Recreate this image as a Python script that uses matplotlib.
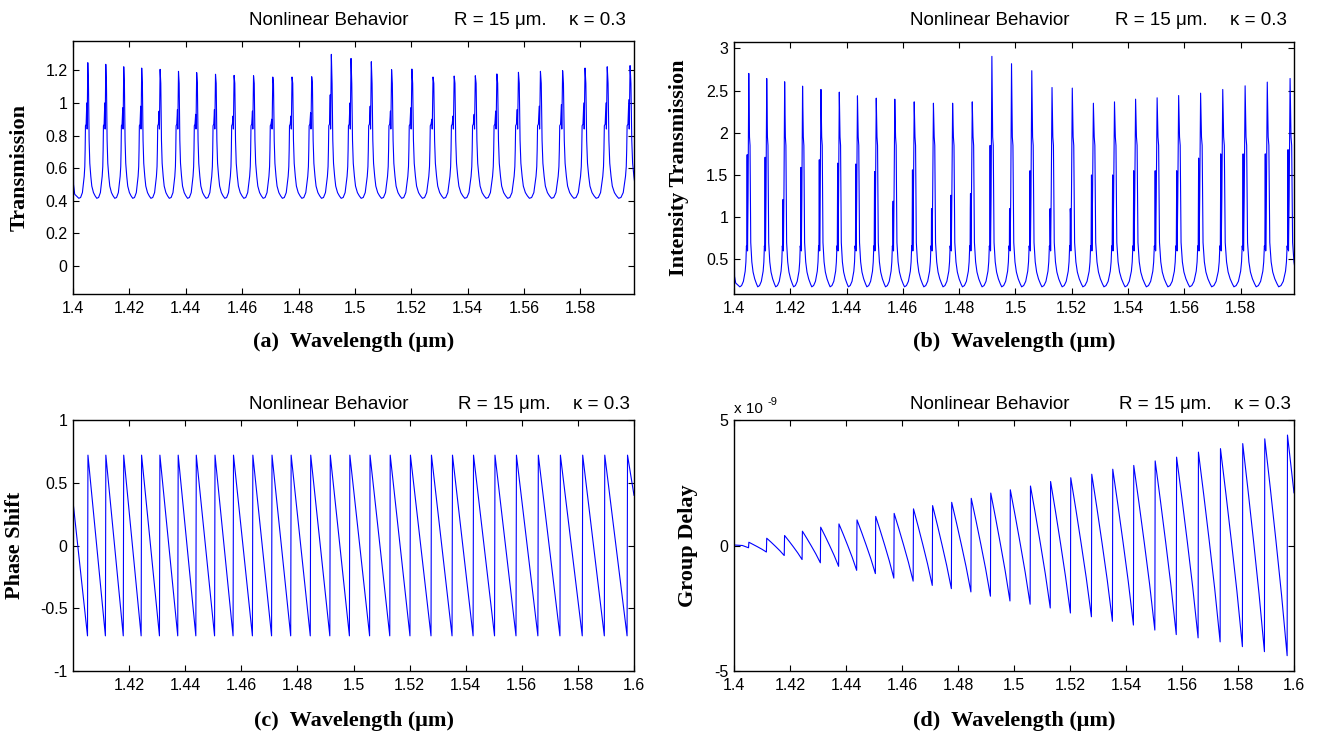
import matplotlib
matplotlib.use('Agg')
import matplotlib.pyplot as plt
from matplotlib.ticker import FuncFormatter

resonance = [1.40525, 1.41163, 1.41800, 1.42437, 1.43090, 1.43742, 1.44387,
             1.45055, 1.45714, 1.46404, 1.47087, 1.47769, 1.48467, 1.49164,
             1.49862, 1.50582, 1.51301, 1.52021, 1.52771, 1.53521, 1.54271,
             1.55036, 1.55801, 1.56581, 1.57368, 1.58163, 1.58950, 1.59761]

# peak heights of panel (a) and (b)
trans_peak = [1.247, 1.237, 1.222, 1.214, 1.206, 1.194, 1.186, 1.176, 1.169,
              1.167, 1.159, 1.159, 1.161, 1.298, 1.273, 1.253, 1.204, 1.208,
              1.159, 1.165, 1.167, 1.178, 1.188, 1.194, 1.198, 1.214, 1.222, 1.229]
trans_side = [1.0, 1.0, 0.97, 0.98, 0.95, 0.96, 0.93, 0.96, 0.92, 0.95, 0.9, 0.92,
              0.94, 1.05, 1.0, 0.98, 0.95, 0.97, 0.9, 0.92, 0.93, 0.95, 0.96, 0.98,
              0.99, 1.0, 1.0, 1.02]
inten_peak = [2.703, 2.643, 2.604, 2.552, 2.513, 2.481, 2.437, 2.410, 2.398,
              2.366, 2.350, 2.350, 2.366, 2.905, 2.818, 2.735, 2.536, 2.529,
              2.350, 2.366, 2.398, 2.414, 2.441, 2.469, 2.513, 2.556, 2.600, 2.643]
inten_side = [1.74, 1.71, 1.21, 1.59, 1.68, 1.64, 1.63, 1.54, 1.19, 1.56, 1.06, 1.26,
              1.28, 1.85, 1.0, 1.55, 1.0, 1.05, 1.5, 1.5, 1.55, 1.55, 1.55, 1.7,
              1.75, 1.75, 1.75, 1.8]

# one period around a peak: offset (in periods) and value
# 'pk' = the peak itself, 'sd' = the side spike next to it
trans_off = [-0.5, -0.4, -0.3, -0.24, -0.2, -0.167, -0.148, -0.13, -0.093,
             -0.056, -0.037, 0.0, 0.037, 0.074, 0.111, 0.167, 0.222, 0.315, 0.407]
trans_val = [0.415, 0.42, 0.45, 0.51, 0.55, 0.61, 0.71, 0.86, 0.87,
             'sd', 0.84, 'pk', 1.12, 0.77, 0.63, 0.55, 0.49, 0.45, 0.43]
trans_start = ([1.4, 1.40003, 1.4002, 1.4006], [-0.25, 1.0, 0.5, 0.44])

inten_off = [-0.5, -0.4, -0.3, -0.2, -0.16, -0.13, -0.11, -0.10, -0.09, -0.07,
             -0.04, 0.0, 0.04, 0.07, 0.11, 0.17, 0.24, 0.33, 0.43]
inten_val = [0.175, 0.19, 0.24, 0.36, 0.47, 0.66, 0.62, 1.1, 'sd', 0.6,
             1.25, 'pk', 1.95, 1.85, 0.70, 0.47, 0.35, 0.27, 0.21]
inten_start = ([1.4, 1.40003, 1.4002, 1.4006], [0.0, 1.2, 0.3, 0.22])

# phase shift sawtooth
phase_top = 0.72
phase_bottom = -0.72
phase_ends = (0.35, 0.4)

# group delay (x 1e-9): value just after / just before each jump
gd_max = [0.13, 0.29, 0.40, 0.57, 0.73, 0.86, 1.02, 1.16, 1.28, 1.46, 1.59, 1.72,
          1.88, 2.09, 2.22, 2.37, 2.55, 2.70, 2.84, 3.04, 3.19, 3.37, 3.52, 3.72,
          3.86, 4.06, 4.25, 4.40]
gd_min = [-0.09, -0.26, -0.40, -0.56, -0.69, -0.83, -0.99, -1.12, -1.30, -1.42,
          -1.59, -1.72, -1.85, -2.02, -2.21, -2.34, -2.49, -2.69, -2.84, -3.02,
          -3.17, -3.37, -3.55, -3.68, -3.84, -4.03, -4.23, -4.39]
gd_shape_off = [0.0, 0.25, 0.5, 0.75]
gd_shape_frac = [1.0, 0.77, 0.53, 0.28]
gd_start = ([1.4, 1.403], [0.02, 0.0])
gd_end = 2.1

BLUE = '#0000ff'
SANS = 'Liberation Sans'
SERIF = 'Liberation Serif'


def ring_curve(peaks, sides, offs, vals, start):
    xs, ys = list(start[0]), list(start[1])
    n = len(resonance)
    for k in range(n):
        left = resonance[k] - resonance[k - 1] if k > 0 else resonance[1] - resonance[0]
        right = resonance[k + 1] - resonance[k] if k < n - 1 else left
        o_k = offs + ([0.5] if k == n - 1 else [])
        v_k = vals + ([vals[0]] if k == n - 1 else [])
        for o, v in zip(o_k, v_k):
            xs.append(resonance[k] + o * (left if o < 0 else right))
            if v == 'pk':
                ys.append(peaks[k])
            elif v == 'sd':
                ys.append(sides[k])
            else:
                ys.append(v)
    return xs, ys


def phase_curve():
    eps = 0.00008
    xs, ys = [1.4], [phase_ends[0]]
    for r in resonance:
        xs += [r - eps, r + eps]
        ys += [phase_bottom, phase_top]
    xs.append(1.6)
    ys.append(phase_ends[1])
    return xs, ys


def delay_curve():
    eps = 0.00006
    xs, ys = list(gd_start[0]), list(gd_start[1])
    n = len(resonance)
    for k, r in enumerate(resonance):
        xs.append(r - eps)
        ys.append(gd_min[k])
        if k < n - 1:
            d = resonance[k + 1] - r - 2 * eps
            for o, f in zip(gd_shape_off, gd_shape_frac):
                xs.append(r + eps + o * d)
                ys.append(gd_min[k + 1] + f * (gd_max[k] - gd_min[k + 1]))
        else:
            xs += [r + eps, 1.6]
            ys += [gd_max[k], gd_end]
    return xs, ys


W, H = 1319, 737
fig = plt.figure(figsize=(W / 100, H / 100), dpi=100)


def make_axes(left, top, right, bottom):
    return fig.add_axes([left / W, 1 - bottom / H, (right - left) / W, (bottom - top) / H])


def style(ax, xlim, xticks, ylim, yticks):
    ax.set_xlim(*xlim)
    ax.set_ylim(*ylim)
    ax.set_xticks(xticks)
    ax.set_yticks(yticks)
    fmt = FuncFormatter(lambda v, p: '%g' % round(v, 3))
    ax.xaxis.set_major_formatter(fmt)
    ax.yaxis.set_major_formatter(fmt)
    ax.tick_params(direction='in', top=True, right=True, length=4, width=0.8,
                   labelsize=11.5)
    ax.tick_params(axis='x', pad=5)
    ax.tick_params(axis='y', pad=4)
    for lab in ax.get_xticklabels() + ax.get_yticklabels():
        lab.set_fontfamily(SANS)
    for s in ax.spines.values():
        s.set_linewidth(1.0)


def header(left, base, offsets):
    parts = ['Nonlinear Behavior', 'R = 15 \u03bcm.', '\u03ba = 0.3']
    for t, o in zip(parts, offsets):
        fig.text((left + o) / W, 1 - base / H, t, fontsize=13.5, family=SANS,
                 ha='left', va='baseline')


def labels(left, top, right, bottom, xlab, ylab, ylab_x, xlab_y):
    fig.text((left + right) / 2 / W, 1 - xlab_y / H, xlab, fontsize=16,
             family=SERIF, weight='bold', ha='center', va='center')
    fig.text(ylab_x / W, 1 - (top + bottom) / 2 / H, ylab, fontsize=16,
             family=SERIF, weight='bold', ha='center', va='center', rotation=90)


xt_full = [1.4 + 0.02 * i for i in range(10)]
xt_six = [1.4 + 0.02 * i for i in range(11)]

# (a)
ax1 = make_axes(73, 41, 634, 294)
x, y = ring_curve(trans_peak, trans_side, trans_off, trans_val, trans_start)
ax1.plot(x, y, color=BLUE, lw=0.8)
style(ax1, (1.4, 1.599), xt_full, (-0.172, 1.38), [0, 0.2, 0.4, 0.6, 0.8, 1.0, 1.2])
header(73, 25, [176, 381, 496])
labels(73, 41, 634, 294, '(a)  Wavelength (\u03bcm)', 'Transmission', 20, 342)

# (b)
ax2 = make_axes(734, 42, 1294, 294)
x, y = ring_curve(inten_peak, inten_side, inten_off, inten_val, inten_start)
ax2.plot(x, y, color=BLUE, lw=0.8)
style(ax2, (1.4, 1.599), xt_full, (0.09, 3.075), [0.5, 1, 1.5, 2, 2.5, 3])
header(734, 25, [176, 381, 496])
labels(734, 42, 1294, 294, '(b)  Wavelength (\u03bcm)', 'Intensity Transmission', 679, 342)

# (c)
ax3 = make_axes(73, 420, 634, 671)
x, y = phase_curve()
ax3.plot(x, y, color=BLUE, lw=0.8)
style(ax3, (1.4, 1.6), xt_six[1:], (-1, 1), [-1, -0.5, 0, 0.5, 1])
header(73, 409, [176, 385, 500])
labels(73, 420, 634, 671, '(c)  Wavelength (\u03bcm)', 'Phase Shift', 15, 721)

# (d)
ax4 = make_axes(734, 420, 1294, 671)
x, y = delay_curve()
ax4.plot(x, y, color=BLUE, lw=0.8)
style(ax4, (1.4, 1.6), xt_six, (-5, 5), [-5, 0, 5])
header(734, 409, [176, 385, 500])
labels(734, 420, 1294, 671, '(d)  Wavelength (\u03bcm)', 'Group Delay', 688, 721)
fig.text(734 / W, 1 - 413 / H, 'x 10', fontsize=11, family=SANS, va='baseline')
fig.text(767 / W, 1 - 405 / H, '-9', fontsize=8, family=SANS, va='baseline')

fig.savefig('out.png', dpi=100)
